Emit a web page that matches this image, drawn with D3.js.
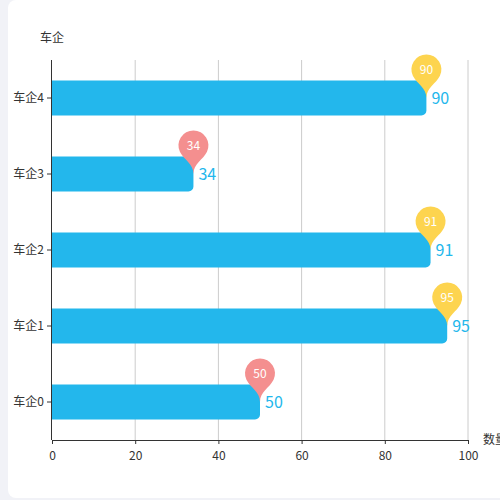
<!DOCTYPE html>
<html>
<head>
<meta charset="utf-8">
<script src="https://cdn.jsdelivr.net/npm/d3@7/dist/d3.min.js"></script>
<style>
  html, body { margin: 0; padding: 0; background: #f1f2f7; }
  svg { display: block; font-family: "Microsoft YaHei", "Noto Sans CJK SC", "Noto Sans", sans-serif; }
</style>
</head>
<body>
<div id="chart"></div>
<script>
// data
const categories = ["车企0", "车企1", "车企2", "车企3", "车企4"];
const values = [50, 95, 91, 34, 90];
const xTicks = [0, 20, 40, 60, 80, 100];
const yAxisName = "车企";
const xAxisName = "数量";

const width = 500, height = 500;
const gLeft = 52, gRight = 468, gTop = 60, gBottom = 440;
const barColor = "#23b7ec";
const pinHigh = "#fdd44f", pinLow = "#f48f8f";

const svg = d3.select("#chart").append("svg")
  .attr("width", width)
  .attr("height", height);

// white card
svg.append("rect")
  .attr("x", 8).attr("y", 0)
  .attr("width", 500).attr("height", 498)
  .attr("rx", 8)
  .attr("fill", "#fff");

const x = d3.scaleLinear().domain([0, 100]).range([gLeft, gRight]);
const y = d3.scaleBand()
  .domain(categories.slice().reverse())
  .range([gTop, gBottom])
  .paddingInner(0.54)
  .paddingOuter(0.27);
const bh = y.bandwidth();
const cy = c => y(c) + bh / 2;

// grid lines
svg.append("g").selectAll("line")
  .data(xTicks.filter(t => t > 0))
  .join("line")
  .attr("x1", d => x(d)).attr("x2", d => x(d))
  .attr("y1", gTop).attr("y2", gBottom)
  .attr("stroke", "#ccc");

// bars with rounded right end
const barPath = (x0, y0, w, h, r) => {
  const p = d3.path();
  p.moveTo(x0, y0);
  p.lineTo(x0 + w - r, y0);
  p.arcTo(x0 + w, y0, x0 + w, y0 + r, r);
  p.lineTo(x0 + w, y0 + h - r);
  p.arcTo(x0 + w, y0 + h, x0 + w - r, y0 + h, r);
  p.lineTo(x0, y0 + h);
  p.closePath();
  return p.toString();
};

const rows = categories.map((c, i) => ({ cat: c, v: values[i] }));

svg.append("g").selectAll("path")
  .data(rows)
  .join("path")
  .attr("d", d => barPath(x(0), y(d.cat), x(d.v) - x(0), bh, 5))
  .attr("fill", barColor);

// value labels
svg.append("g").selectAll("text")
  .data(rows)
  .join("text")
  .attr("x", d => x(d.v) + 5)
  .attr("y", d => cy(d.cat))
  .attr("dy", "0.35em")
  .attr("font-size", 16)
  .attr("fill", barColor)
  .text(d => d.v);

// axes
const yAxis = svg.append("g")
  .attr("transform", `translate(${gLeft},0)`)
  .call(d3.axisLeft(y).tickSize(5).tickPadding(3));
yAxis.select(".domain").attr("d", `M-0.5,${gTop}V${gBottom}`).attr("stroke", "#333");
yAxis.selectAll(".tick line").attr("stroke", "#333");
yAxis.selectAll(".tick text").attr("fill", "#333").attr("font-size", 12);
yAxis.attr("font-family", null);

const xAxis = svg.append("g")
  .attr("transform", `translate(0,${gBottom})`)
  .call(d3.axisBottom(x).tickValues(xTicks).tickSize(4).tickPadding(7));
xAxis.select(".domain").attr("stroke", "#333");
xAxis.selectAll(".tick line").attr("stroke", "#333");
xAxis.selectAll(".tick text").attr("fill", "#333").attr("font-size", 12);
xAxis.attr("font-family", null);

// axis names
svg.append("text")
  .attr("x", gLeft).attr("y", gTop - 18)
  .attr("text-anchor", "middle")
  .attr("font-size", 12).attr("fill", "#333")
  .text(yAxisName);
svg.append("text")
  .attr("x", gRight + 15).attr("y", gBottom)
  .attr("dy", "0.35em")
  .attr("font-size", 12).attr("fill", "#333")
  .text(xAxisName);

// pin markers (tip at the data point)
const pinPath = (px, py, size) => {
  const w = size / 5 * 3;
  const h = Math.max(w, size);
  const r = w / 2;
  const dy = r * r / (h - r);
  const ccy = py - h + r + dy;
  const angle = Math.asin(dy / r);
  const dx = Math.cos(angle) * r;
  const tanX = Math.sin(angle), tanY = Math.cos(angle);
  const cp1 = r * 0.6, cp2 = r * 0.7;
  const p = d3.path();
  p.moveTo(px - dx, ccy + dy);
  p.arc(px, ccy, r, Math.PI - angle, Math.PI * 2 + angle);
  p.bezierCurveTo(px + dx - tanX * cp1, ccy + dy + tanY * cp1, px, py - cp2, px, py);
  p.bezierCurveTo(px, py - cp2, px - dx + tanX * cp1, ccy + dy + tanY * cp1, px - dx, ccy + dy);
  p.closePath();
  return { d: p.toString(), cy: ccy };
};

const pins = svg.append("g").selectAll("g")
  .data(rows)
  .join("g");
pins.append("path")
  .attr("d", d => pinPath(x(d.v), cy(d.cat), 50).d)
  .attr("fill", d => d.v >= 60 ? pinHigh : pinLow);
pins.append("text")
  .attr("x", d => x(d.v))
  .attr("y", d => pinPath(x(d.v), cy(d.cat), 50).cy)
  .attr("dy", "0.35em")
  .attr("text-anchor", "middle")
  .attr("font-size", 12)
  .attr("fill", "#fff")
  .text(d => d.v);
</script>
</body>
</html>
